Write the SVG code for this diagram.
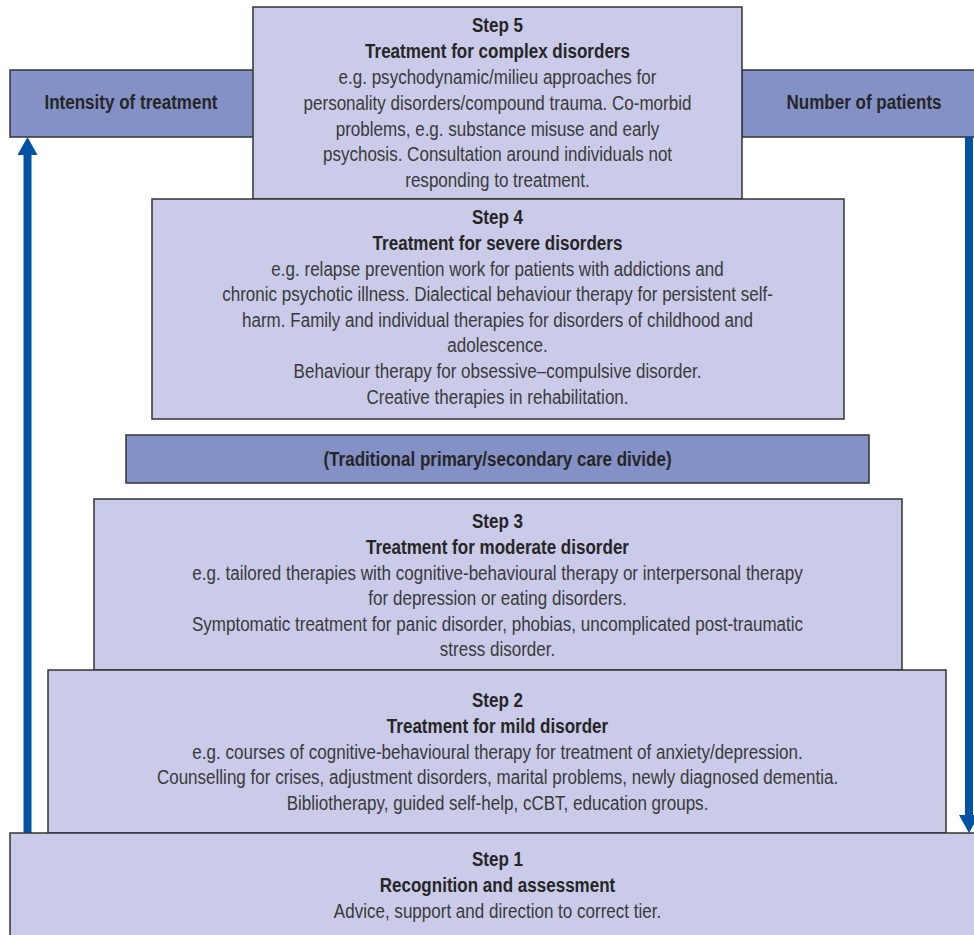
<svg xmlns="http://www.w3.org/2000/svg" width="974" height="935" viewBox="0 0 974 935">
<style>
.dark{fill:#8491c7;stroke:#333;stroke-width:1.5}
.light{fill:#c9cbe9;stroke:#333;stroke-width:1.5}
text{font-family:"Liberation Sans",Arial,sans-serif;font-size:21px;text-anchor:middle;fill:#3a3a3a}
.b{font-weight:bold;fill:#262626}
.arrow{stroke:#0052a4;stroke-width:8;fill:none}
</style>
<defs>
<marker id="head" viewBox="0 0 18 20" refX="0" refY="10" markerWidth="18" markerHeight="20" markerUnits="userSpaceOnUse" orient="auto">
<path d="M0,0 L18,10 L0,20 z" fill="#0052a4"/>
</marker>
</defs>
<rect width="974" height="935" fill="#fff"/>
<g id="intensity">
<rect class="dark" x="10" y="70" width="250" height="67"/>
<g transform="translate(131 0) scale(0.811 1)"><text class="b" x="0" y="109">Intensity of treatment</text></g>
</g>
<g id="patients">
<rect class="dark" x="742" y="70" width="240" height="67"/>
<g transform="translate(864 0) scale(0.811 1)"><text class="b" x="0" y="109">Number of patients</text></g>
</g>
<g id="connectors">
<line class="arrow" x1="27.5" y1="833" x2="27.5" y2="155" marker-end="url(#head)"/>
<line class="arrow" x1="969" y1="137" x2="969" y2="815" marker-end="url(#head)"/>
</g>
<g id="step5">
<rect class="light" x="253" y="7" width="489" height="192"/>
<g transform="translate(497.5 0) scale(0.811 1)">
<text class="b" x="0" y="32.5">Step 5</text>
<text class="b" x="0" y="58.3">Treatment for complex disorders</text>
<text x="0" y="84.1">e.g. psychodynamic/milieu approaches for</text>
<text x="0" y="109.9">personality disorders/compound trauma. Co-morbid</text>
<text x="0" y="135.7">problems, e.g. substance misuse and early</text>
<text x="0" y="161.5">psychosis. Consultation around individuals not</text>
<text x="0" y="187.3">responding to treatment.</text>
</g>
</g>
<g id="step4">
<rect class="light" x="152" y="199" width="692" height="220"/>
<g transform="translate(497.5 0) scale(0.811 1)">
<text class="b" x="0" y="224.5">Step 4</text>
<text class="b" x="0" y="250.1">Treatment for severe disorders</text>
<text x="0" y="275.7">e.g. relapse prevention work for patients with addictions and</text>
<text x="0" y="301.3">chronic psychotic illness. Dialectical behaviour therapy for persistent self-</text>
<text x="0" y="326.9">harm. Family and individual therapies for disorders of childhood and</text>
<text x="0" y="352.5">adolescence.</text>
<text x="0" y="378.1">Behaviour therapy for obsessive–compulsive disorder.</text>
<text x="0" y="403.7">Creative therapies in rehabilitation.</text>
</g>
</g>
<g id="divide">
<rect class="dark" x="126" y="435" width="743" height="48"/>
<g transform="translate(497.5 0) scale(0.811 1)"><text class="b" x="0" y="466.5">(Traditional primary/secondary care divide)</text></g>
</g>
<g id="step3">
<rect class="light" x="94" y="499" width="808" height="171"/>
<g transform="translate(497.5 0) scale(0.811 1)">
<text class="b" x="0" y="528.5">Step 3</text>
<text class="b" x="0" y="554.1">Treatment for moderate disorder</text>
<text x="0" y="579.7">e.g. tailored therapies with cognitive-behavioural therapy or interpersonal therapy</text>
<text x="0" y="605.3">for depression or eating disorders.</text>
<text x="0" y="630.9">Symptomatic treatment for panic disorder, phobias, uncomplicated post-traumatic</text>
<text x="0" y="656.5">stress disorder.</text>
</g>
</g>
<g id="step2">
<rect class="light" x="48" y="670" width="898" height="163"/>
<g transform="translate(497.5 0) scale(0.811 1)">
<text class="b" x="0" y="707.5">Step 2</text>
<text class="b" x="0" y="733.1">Treatment for mild disorder</text>
<text x="0" y="758.7">e.g. courses of cognitive-behavioural therapy for treatment of anxiety/depression.</text>
<text x="0" y="784.3">Counselling for crises, adjustment disorders, marital problems, newly diagnosed dementia.</text>
<text x="0" y="809.9">Bibliotherapy, guided self-help, cCBT, education groups.</text>
</g>
</g>
<g id="step1">
<rect class="light" x="10" y="833" width="980" height="110"/>
<g transform="translate(497.5 0) scale(0.811 1)">
<text class="b" x="0" y="866.5">Step 1</text>
<text class="b" x="0" y="892.1">Recognition and assessment</text>
<text x="0" y="917.7">Advice, support and direction to correct tier.</text>
</g>
</g>
</svg>
